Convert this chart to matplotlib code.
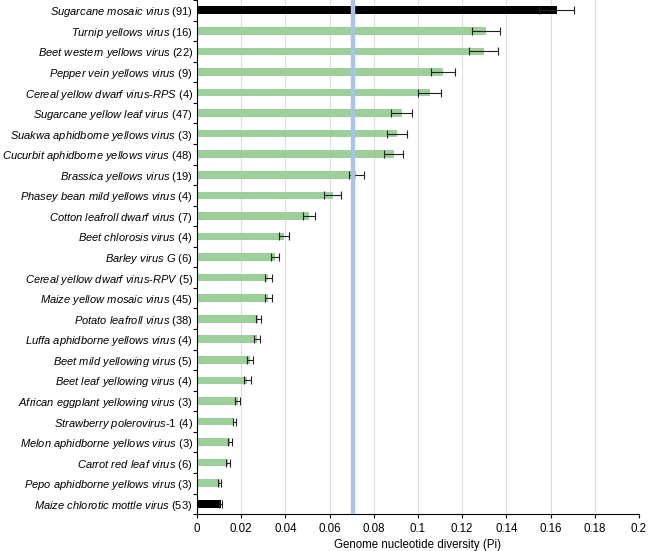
import numpy as np
import matplotlib
matplotlib.use('Agg')
import matplotlib.pyplot as plt

plt.rcParams['font.family'] = 'Liberation Sans'
plt.rcParams['mathtext.fontset'] = 'custom'
plt.rcParams['mathtext.rm'] = 'Liberation Sans'
plt.rcParams['mathtext.it'] = 'Liberation Sans:italic'

# top to bottom as in the figure
viruses = ['Sugarcane mosaic virus', 'Turnip yellows virus', 'Beet western yellows virus',
           'Pepper vein yellows virus', 'Cereal yellow dwarf virus-RPS', 'Sugarcane yellow leaf virus',
           'Suakwa aphidborne yellows virus', 'Cucurbit aphidborne yellows virus', 'Brassica yellows virus',
           'Phasey bean mild yellows virus', 'Cotton leafroll dwarf virus', 'Beet chlorosis virus',
           'Barley virus G', 'Cereal yellow dwarf virus-RPV', 'Maize yellow mosaic virus',
           'Potato leafroll virus', 'Luffa aphidborne yellows virus', 'Beet mild yellowing virus',
           'Beet leaf yellowing virus', 'African eggplant yellowing virus', 'Strawberry polerovirus-1',
           'Melon aphidborne yellows virus', 'Carrot red leaf virus', 'Pepo aphidborne yellows virus',
           'Maize chlorotic mottle virus']
n_seq = [91, 16, 22, 9, 4, 47, 3, 48, 19, 4, 7, 4, 6, 5, 45, 38, 4, 5, 4, 3, 4, 3, 6, 3, 53]
pi = [0.1628, 0.1308, 0.1297, 0.1112, 0.1053, 0.0926, 0.0906, 0.0890, 0.0721,
      0.0615, 0.0508, 0.0394, 0.0353, 0.0323, 0.0322, 0.0278, 0.0272, 0.0240,
      0.0228, 0.0184, 0.0169, 0.0151, 0.0140, 0.0104, 0.0107]
err = [0.0080, 0.0064, 0.0067, 0.0055, 0.0053, 0.0048, 0.0044, 0.0043, 0.0035,
       0.0038, 0.0027, 0.0023, 0.0018, 0.0016, 0.0016, 0.0013, 0.0014, 0.0012,
       0.0015, 0.0011, 0.0008, 0.0009, 0.0010, 0.0007, 0.0008]
outgroup = ['Sugarcane mosaic virus', 'Maize chlorotic mottle virus']
threshold = 0.0705


def label(name, n):
    parts = name.split('-')
    s = '-'.join(r'$\it{' + p.replace(' ', r'\ ') + '}$' for p in parts)
    return s + ' (%d)' % n


colors = ['black' if v in outgroup else '#9ccf9a' for v in viruses]
y = np.arange(len(viruses))[::-1]

fig = plt.figure(figsize=(6.5, 5.51), dpi=100)
ax = fig.add_axes([0.303, 0.067, 0.68, 0.933])

ax.barh(y, pi, height=0.37, color=colors, zorder=2)
ax.errorbar(pi, y, xerr=err, fmt='none', ecolor='#222222', elinewidth=0.8,
            capsize=3, capthick=0.8, zorder=3)
ax.axvline(threshold, color='#a9c4e8', lw=3.2, zorder=4)

ax.set_xlim(0, 0.2)
ax.set_ylim(-0.5, len(viruses) - 0.5)
ax.set_xticks(np.arange(0, 0.201, 0.02))
ax.set_xticklabels(['0', '0.02', '0.04', '0.06', '0.08', '0.1', '0.12', '0.14', '0.16', '0.18', '0.2'])
ax.xaxis.grid(True, color='#dddddd', lw=0.8, zorder=0)
ax.set_yticks(y)
ax.set_yticklabels([label(v, n) for v, n in zip(viruses, n_seq)], fontsize=8.0)
ax.set_yticks(np.arange(-0.5, len(viruses)), minor=True)
ax.tick_params(axis='y', which='major', length=0, pad=3)
ax.tick_params(axis='y', which='minor', length=3, width=0.8)
ax.tick_params(axis='x', length=3, width=0.8, labelsize=8.3)
ax.spines['top'].set_visible(False)
ax.spines['right'].set_visible(False)
ax.spines['left'].set_linewidth(0.8)
ax.spines['bottom'].set_linewidth(0.8)
ax.set_xlabel('Genome nucleotide diversity (Pi)', fontsize=8.3, labelpad=3)

plt.savefig('out.png', dpi=100)
